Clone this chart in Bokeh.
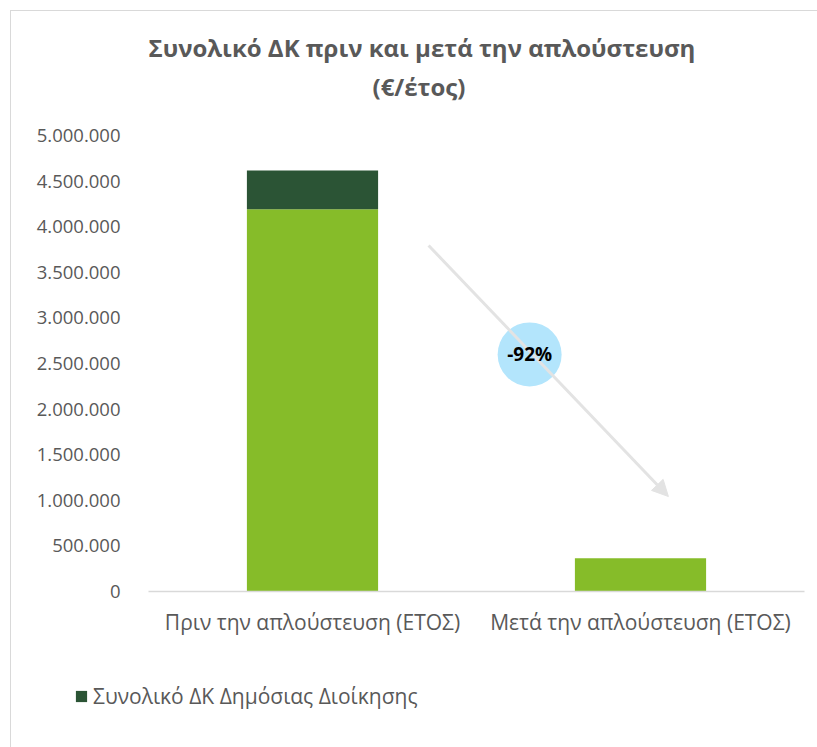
from bokeh.plotting import figure
from bokeh.layouts import column, row
from bokeh.models import (FactorRange, Range1d, FixedTicker, Legend, LegendItem,
                          Arrow, NormalHead, Title, Label, ColumnDataSource)
from bokeh.embed import file_html
from bokeh.resources import INLINE

# ---- data ----
categories = ["Πριν την απλούστευση (ΕΤΟΣ)", "Μετά την απλούστευση (ΕΤΟΣ)"]
base_values = [4190000, 365000]
admin_values = [425000, 0]
legend_label = "Συνολικό ΔΚ Δημόσιας Διοίκησης"
y_ticks = [0, 500000, 1000000, 1500000, 2000000, 2500000, 3000000,
           3500000, 4000000, 4500000, 5000000]
y_tick_labels = ["0", "500.000", "1.000.000", "1.500.000", "2.000.000", "2.500.000",
                 "3.000.000", "3.500.000", "4.000.000", "4.500.000", "5.000.000"]
title_lines = ["Συνολικό ΔΚ πριν και μετά την απλούστευση", "(€/έτος)"]
change_label = "-92%"
# annotation anchor points (category axis position, value)
arrow_start = (0.854, 3794000)
arrow_end = (1.585, 1042000)
badge_pos = (1.162, 2600000)

FONT = "Open Sans"
GREY = "#595959"
LIGHT = "#86BC29"
DARK = "#2B5435"

tops = [b + a for b, a in zip(base_values, admin_values)]
src = ColumnDataSource(dict(cat=categories, base=base_values, top=tops))

p = figure(x_range=FactorRange(factors=categories, range_padding=0),
           y_range=Range1d(0, 5000000),
           width=807, height=650,
           output_backend="svg", toolbar_location=None,
           min_border_left=137, min_border_right=14, min_border_top=124, min_border_bottom=70)

p.vbar(x="cat", top="base", bottom=0, width=0.4, source=src,
       fill_color=LIGHT, line_color=None)
p.vbar(x="cat", bottom="base", top="top", width=0.4, source=src,
       fill_color=DARK, line_color=None)

# arrow + badge
p.add_layout(Arrow(x_start=arrow_start[0], y_start=arrow_start[1],
                   x_end=arrow_end[0], y_end=arrow_end[1],
                   line_color="#e3e3e3", line_width=3,
                   end=NormalHead(size=16, fill_color="#e3e3e3", line_color="#e3e3e3")))
p.scatter(x=[badge_pos[0]], y=[badge_pos[1]], size=64, marker="circle",
          fill_color="#B3E5FC", line_color=None)
p.add_layout(Label(x=badge_pos[0], y=badge_pos[1], text=change_label,
                   text_align="center", text_baseline="middle",
                   text_font=FONT, text_font_style="bold", text_font_size="19px",
                   text_color="black"))

# axes
p.xgrid.visible = False
p.ygrid.visible = False
p.outline_line_color = None
p.yaxis.ticker = FixedTicker(ticks=y_ticks)
p.yaxis.major_label_overrides = {t: l for t, l in zip(y_ticks, y_tick_labels)}
p.yaxis.axis_line_color = None
p.yaxis.major_tick_line_color = None
p.yaxis.minor_tick_line_color = None
p.yaxis.major_label_standoff = 22
p.yaxis.major_label_text_font = FONT
p.yaxis.major_label_text_font_size = "18.5px"
p.yaxis.major_label_text_color = GREY

p.xaxis.axis_line_color = "#d9d9d9"
p.xaxis.axis_line_width = 1.5
p.xaxis.major_tick_line_color = None
p.xaxis.minor_tick_line_color = None
p.xaxis.major_label_standoff = 10
p.xaxis.major_label_text_font = FONT
p.xaxis.major_label_text_font_size = "21px"
p.xaxis.major_label_text_color = GREY

# title: panels stack outward from the frame (spacer, line 2, line 1)
p.add_layout(Title(text=" ", text_font_size="1px", standoff=28), "above")
p.add_layout(Title(text=title_lines[1], align="left", offset=224, text_font=FONT,
                   text_font_style="bold", text_font_size="24px", text_color=GREY,
                   standoff=4), "above")
p.add_layout(Title(text=title_lines[0], align="left", offset=0, text_font=FONT,
                   text_font_style="bold", text_font_size="24px", text_color=GREY,
                   standoff=3), "above")

# legend strip below the chart
lg = figure(width=807, height=87, output_backend="svg", toolbar_location=None,
            x_axis_type=None, y_axis_type=None, min_border=0,
            x_range=Range1d(0, 1), y_range=Range1d(0, 1))
lg.outline_line_color = None
lg.xgrid.visible = False
lg.ygrid.visible = False
dark_key = lg.vbar(x=[0], top=[0], bottom=[0], width=0, fill_color=DARK, line_color=None)
legend = Legend(items=[LegendItem(label=legend_label, renderers=[dark_key])],
                location=(63, 38), orientation="horizontal",
                border_line_color=None, background_fill_alpha=0,
                padding=0, margin=0, glyph_width=14, glyph_height=14,
                label_standoff=5, label_text_font=FONT, label_text_font_size="21px",
                label_text_color=GREY)
lg.add_layout(legend, "center")

layout = column(p, row(lg), spacing=0, margin=(10, 0, 0, 10),
                styles={"border-left": "1px solid #d9d9d9", "border-top": "1px solid #d9d9d9"})

open("out.html", "w").write(file_html(layout, INLINE))
